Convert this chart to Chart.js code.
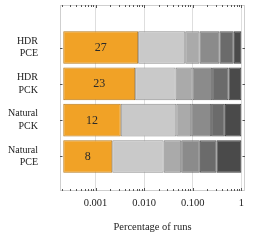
<!DOCTYPE html>
<html>
<head>
<meta charset="utf-8">
<script src="https://cdn.jsdelivr.net/npm/chart.js@4/dist/chart.umd.min.js"></script>
<style>
html,body{margin:0;padding:0;background:#fff;}
#wrap{width:277px;height:240px;position:relative;}
</style>
</head>
<body>
<div id="wrap"><canvas id="c"></canvas></div>
<script>
// ---- data ----
const rowLabels = [['HDR','PCE'], ['HDR','PCK'], ['Natural','PCK'], ['Natural','PCE']];
const rowCounts = [27, 23, 12, 8];
const barStart = 0.000217;
const seg1End = [0.00753, 0.00654, 0.00331, 0.00221];
const seg2End = [0.0702, 0.0444, 0.0459, 0.0252];
const seg3End = [0.138, 0.099, 0.0932, 0.058];
const seg4End = [0.354, 0.251, 0.239, 0.140];
const seg5End = [0.698, 0.542, 0.457, 0.307];
const seg6End = [1, 1, 1, 1];
const xTickValues = [0.001, 0.01, 0.1, 1];
const xTickLabels = ['0.001', '0.010', '0.100', '1'];
const xTitle = 'Percentage of runs';

const segEnds = [seg1End, seg2End, seg3End, seg4End, seg5End, seg6End];
const fills = ['#F1A226', '#C9C9C9', '#AAAAAA', '#8B8B8B', '#6B6B6B', '#4A4A4A'];
const borders = ['#B57A1E', '#8E8E8E', '#7A7A7A', '#666666', '#505050', '#383838'];

const datasets = segEnds.map((ends, s) => ({
  data: ends.map((e, i) => ({ x: [s === 0 ? barStart : segEnds[s - 1][i], e], y: i + 1 })),
  backgroundColor: fills[s],
  borderColor: borders[s],
  borderWidth: 1,
  borderSkipped: false,
  grouped: false,
  categoryPercentage: 1,
  barPercentage: 0.9
}));

const serif = "'Liberation Serif', 'DejaVu Serif', serif";

const decor = {
  id: 'decor',
  afterDatasetsDraw(chart) {
    const ctx = chart.ctx, a = chart.chartArea;
    const xs = chart.scales.x, ys = chart.scales.y;
    ctx.save();
    // frame
    ctx.strokeStyle = '#cfcfcf';
    ctx.lineWidth = 1;
    ctx.strokeRect(Math.round(a.left) + 0.5, Math.round(a.top) + 0.5, Math.round(a.right - a.left) - 1, Math.round(a.bottom - a.top) - 1);
    // minor ticks on x
    ctx.strokeStyle = '#555';
    ctx.beginPath();
    for (let d = -4; d <= 0; d++) {
      for (let m = 1; m <= 9; m++) {
        const v = m * Math.pow(10, d);
        if (v < xs.min || v > xs.max) continue;
        const px = Math.round(xs.getPixelForValue(v)) + 0.5;
        const len = m === 1 ? 3 : 2;
        ctx.moveTo(px, a.top); ctx.lineTo(px, a.top + len);
        ctx.moveTo(px, a.bottom); ctx.lineTo(px, a.bottom - len);
      }
    }
    // y ticks
    for (let i = 1; i <= rowLabels.length; i++) {
      const py = Math.round(ys.getPixelForValue(i)) + 0.5;
      ctx.moveTo(a.left, py); ctx.lineTo(a.left + 2.5, py);
      ctx.moveTo(a.right, py); ctx.lineTo(a.right - 2.5, py);
    }
    ctx.stroke();
    // counts
    const meta = chart.getDatasetMeta(0);
    ctx.fillStyle = '#2a2a2a';
    ctx.font = "12px " + serif;
    ctx.textAlign = 'center';
    ctx.textBaseline = 'middle';
    meta.data.forEach((el, i) => {
      const cx = (el.x + el.base) / 2;
      ctx.fillText(String(rowCounts[i]), cx, el.y + 0.5);
    });
    ctx.restore();
  }
};

new Chart(document.getElementById('c'), {
  type: 'bar',
  data: { datasets },
  options: {
    indexAxis: 'y',
    responsive: true,
    maintainAspectRatio: false,
    animation: false,
    layout: { padding: { left: 0, right: 32, top: 5, bottom: 0 } },
    plugins: { legend: { display: false }, tooltip: { enabled: false } },
    scales: {
      x: {
        type: 'logarithmic',
        min: 0.000186,
        max: 1.19,
        afterBuildTicks(scale) { scale.ticks = xTickValues.map(v => ({ value: v })); },
        afterFit(scale) { scale.height = 49; scale.paddingLeft = 0; scale.paddingRight = 0; },
        ticks: {
          callback(v) { const i = xTickValues.indexOf(v); return i >= 0 ? xTickLabels[i] : ''; },
          font: { family: serif, size: 10.5 },
          color: '#222',
          padding: 6,
          maxRotation: 0,
          autoSkip: false
        },
        grid: { color: '#dedede', drawTicks: false },
        border: { display: false },
        title: {
          display: true,
          text: xTitle,
          font: { family: serif, size: 10.5 },
          color: '#222',
          padding: { top: 0, bottom: 6 }
        }
      },
      y: {
        type: 'linear',
        reverse: true,
        offset: false,
        min: -0.17,
        max: 4.95,
        afterBuildTicks(scale) { scale.ticks = rowLabels.map((_, i) => ({ value: i + 1 })); },
        afterFit(scale) { scale.width = 60; scale.paddingTop = 0; scale.paddingBottom = 0; },
        ticks: {
          callback(v) { return rowLabels[v - 1] || ''; },
          font: { family: serif, size: 10, lineHeight: 1.27 },
          color: '#222',
          padding: 22,
          autoSkip: false
        },
        grid: { display: false, drawTicks: false },
        border: { display: false }
      }
    }
  },
  plugins: [decor]
});
</script>
</body>
</html>
